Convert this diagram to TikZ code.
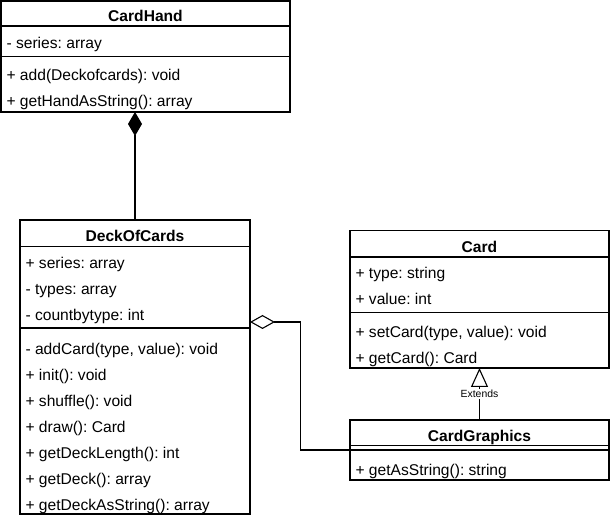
\documentclass[tikz,border=0pt]{standalone}
\usepackage{fontspec}
\setmainfont{Liberation Sans}
\usetikzlibrary{arrows.meta}
\frenchspacing
\begin{document}
\begin{tikzpicture}[x=1pt,y=-1pt,line width=1.1pt,
  cls/.style={draw, fill=white, inner sep=0pt, outer sep=0pt, anchor=north west},
  mem/.style={anchor=base west, inner sep=0pt, font=\fontsize{15.6}{18}\selectfont\frenchspacing},
  ttl/.style={anchor=base, inner sep=0pt, font=\bfseries\fontsize{15.6}{18}\selectfont},
  lbl/.style={fill=white, inner sep=1pt, font=\fontsize{10.4}{12}\selectfont},
  comp/.style={-{Diamond[length=24pt,width=14pt]}},
  aggr/.style={-{Diamond[open,fill=white,length=25pt,width=14pt]}},
  ext/.style={-{Triangle[open,fill=white,length=19pt,width=17pt]}}]
\useasboundingbox (0,0) rectangle (611,518);
\fill[white] (0,0) rectangle (611,518);

% CardHand
\node[cls, minimum width=289pt, minimum height=111pt] (hand) at (1,1) {};
\draw (1,26) -- (290,26);
\draw (1,56.5) -- (290,56.5);
\node[ttl] (handT) at (145.5,21.5) {CardHand};
\node[mem] (handA1) at (6,49) {- series: array};
\node[mem] (handM1) at (6,80.5) {+ add(Deckofcards): void};
\node[mem] (handM2) at (6,106.5) {+ getHandAsString(): array};

% DeckOfCards
\node[cls, minimum width=230pt, minimum height=294pt] (deck) at (20,220) {};
\draw (20,246.5) -- (250,246.5);
\draw (20,328) -- (250,328);
\node[ttl] (deckT) at (135,242) {DeckOfCards};
\node[mem] (deckA1) at (25,268.5) {+ series: array};
\node[mem] (deckA2) at (25,294.5) {- types: array};
\node[mem] (deckA3) at (25,320.5) {- countbytype: int};
\node[mem] (deckM1) at (25,354.5) {- addCard(type, value): void};
\node[mem] (deckM2) at (25,380.5) {+ init(): void};
\node[mem] (deckM3) at (25,406.5) {+ shuffle(): void};
\node[mem] (deckM4) at (25,432.5) {+ draw(): Card};
\node[mem] (deckM5) at (25,458.5) {+ getDeckLength(): int};
\node[mem] (deckM6) at (25,484.5) {+ getDeck(): array};
\node[mem] (deckM7) at (25,510.5) {+ getDeckAsString(): array};

% Card
\node[cls, minimum width=259pt, minimum height=137.5pt] (card) at (350,230.5) {};
\draw (350,257) -- (609,257);
\draw (350,312.5) -- (609,312.5);
\node[ttl] (cardT) at (479.5,252.3) {Card};
\node[mem] (cardA1) at (355,278.3) {+ type: string};
\node[mem] (cardA2) at (355,304.3) {+ value: int};
\node[mem] (cardM1) at (355,337.3) {+ setCard(type, value): void};
\node[mem] (cardM2) at (355,363.3) {+ getCard(): Card};

% CardGraphics
\node[cls, minimum width=259pt, minimum height=60pt] (gfx) at (350,420) {};
\draw (350,445.7) -- (609,445.7);
\draw (350,450) -- (609,450);
\node[ttl] (gfxT) at (479.5,441.7) {CardGraphics};
\node[mem] (gfxM1) at (355,476) {+ getAsString(): string};

% connectors
\draw[comp] (deck.north) -- (deck.north |- hand.south);
\draw[aggr] (gfx.west) -| (300.5,322) -- (deck.east |- 0,322);
\draw[ext] (gfx.north) -- (card.south);
\node[lbl] (extL) at (479.5,394) {Extends};
\end{tikzpicture}
\end{document}
